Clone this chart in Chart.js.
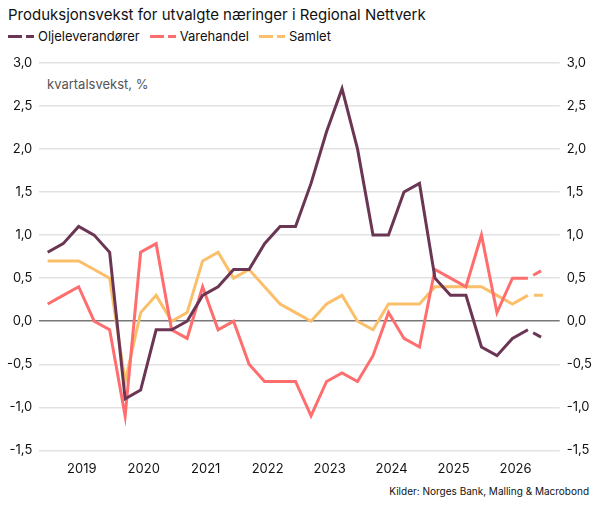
<!DOCTYPE html>
<html lang="no">
<head>
<meta charset="UTF-8">
<title>Produksjonsvekst</title>
<script src="https://cdn.jsdelivr.net/npm/chart.js"></script>
<style>
  body { margin: 0; background: #fff; font-family: Inter, "Liberation Sans", sans-serif; }
  #wrap { position: relative; width: 599px; height: 510px; }
  .title { position: absolute; left: 8px; top: 5px; font-size: 15px; color: #111; }
  .legend { position: absolute; left: 8px; top: 28px; font-size: 13px; color: #111; display: flex; gap: 10px; }
  .legend span { display: flex; align-items: center; }
  .sw { display: inline-block; width: 26px; height: 3px; margin-right: 4px; position: relative; }
  .unit { position: absolute; left: 47px; top: 76px; font-size: 13px; color: #555; }
  .src { position: absolute; right: 10px; top: 485px; font-size: 10px; color: #111; }
  #box { position: absolute; left: 0; top: 48px; width: 599px; height: 432px; }
</style>
</head>
<body>
<div id="wrap">
  <div class="title">Produksjonsvekst for utvalgte næringer i Regional Nettverk</div>
  <div class="legend" id="legend"></div>
  <div class="unit">kvartalsvekst, %</div>
  <div id="box"><canvas id="chart"></canvas></div>
  <div class="src">Kilder: Norges Bank, Malling &amp; Macrobond</div>
</div>
<script>
// kvartalsvise observasjoner, siste punkt er anslag (stiplet)
const quarters = Array.from({ length: 33 }, (_, i) => i);
const years = ['2019', '2020', '2021', '2022', '2023', '2024', '2025', '2026'];
const olje = [0.8, 0.9, 1.1, 1.0, 0.8, -0.9, -0.8, -0.1, -0.1, 0.0, 0.3, 0.4, 0.6, 0.6, 0.9, 1.1, 1.1,
              1.6, 2.2, 2.7, 2.0, 1.0, 1.0, 1.5, 1.6, 0.5, 0.3, 0.3, -0.3, -0.4, -0.2, -0.1, -0.2];
const vare = [0.2, 0.3, 0.4, 0.0, -0.1, -1.1, 0.8, 0.9, -0.1, -0.2, 0.4, -0.1, 0.0, -0.5, -0.7, -0.7, -0.7,
              -1.1, -0.7, -0.6, -0.7, -0.4, 0.1, -0.2, -0.3, 0.6, 0.5, 0.4, 1.0, 0.1, 0.5, 0.5, 0.6];
const samlet = [0.7, 0.7, 0.7, 0.6, 0.5, -0.7, 0.1, 0.3, 0.0, 0.1, 0.7, 0.8, 0.5, 0.6, 0.4, 0.2, 0.1,
                0.0, 0.2, 0.3, 0.0, -0.1, 0.2, 0.2, 0.2, 0.4, 0.4, 0.4, 0.4, 0.3, 0.2, 0.3, 0.3];
const firstForecast = 31;

const series = [
  { label: 'Oljeleverandører', data: olje, color: '#6b3654' },
  { label: 'Varehandel', data: vare, color: '#ff6e6e' },
  { label: 'Samlet', data: samlet, color: '#fbbf6a' }
];

const legend = document.getElementById('legend');
series.forEach(s => {
  const el = document.createElement('span');
  el.innerHTML = '<i class="sw" style="background:linear-gradient(90deg,' + s.color + ' 0 14px,transparent 14px 18px,' +
    s.color + ' 18px 26px)"></i>' + s.label;
  legend.appendChild(el);
});

const fmt = v => v.toFixed(1).replace('.', ',');

new Chart(document.getElementById('chart'), {
  type: 'line',
  data: {
    datasets: series.map(s => ({
      label: s.label,
      data: s.data.map((v, i) => ({ x: quarters[i], y: v })),
      borderColor: s.color,
      borderWidth: 3,
      pointRadius: 0,
      tension: 0,
      segment: {
        borderDash: ctx => ctx.p0DataIndex >= firstForecast ? [9, 6] : undefined,
        borderDashOffset: ctx => ctx.p0DataIndex >= firstForecast ? 9 : 0
      }
    }))
  },
  options: {
    responsive: true,
    maintainAspectRatio: false,
    animation: false,
    layout: { padding: { top: 8, left: 0, right: 0 } },
    plugins: { legend: { display: false }, tooltip: { enabled: false } },
    scales: {
      x: {
        type: 'linear', min: -0.54, max: 33.05,
        grid: { display: false },
        border: { display: false },
        afterBuildTicks: axis => { axis.ticks = years.map((y, k) => ({ value: 2.2 + 4 * k })); },
        ticks: {
          autoSkip: false, maxRotation: 0, color: '#111',
          font: { family: 'Inter', size: 13 },
          callback: (v, i) => years[i]
        }
      },
      y: {
        min: -1.5, max: 3.0,
        border: { display: false },
        grid: {
          color: ctx => ctx.tick.value === 0 ? '#777' : '#e2e2e2',
          lineWidth: 1.5,
          drawTicks: false
        },
        ticks: { stepSize: 0.5, padding: 7, color: '#111', font: { family: 'Inter', size: 13 }, callback: fmt }
      },
      y2: {
        position: 'right', min: -1.5, max: 3.0,
        border: { display: false },
        grid: { display: false, drawTicks: false },
        ticks: { stepSize: 0.5, padding: 7, color: '#111', font: { family: 'Inter', size: 13 }, callback: fmt }
      }
    }
  }
});
</script>
</body>
</html>
